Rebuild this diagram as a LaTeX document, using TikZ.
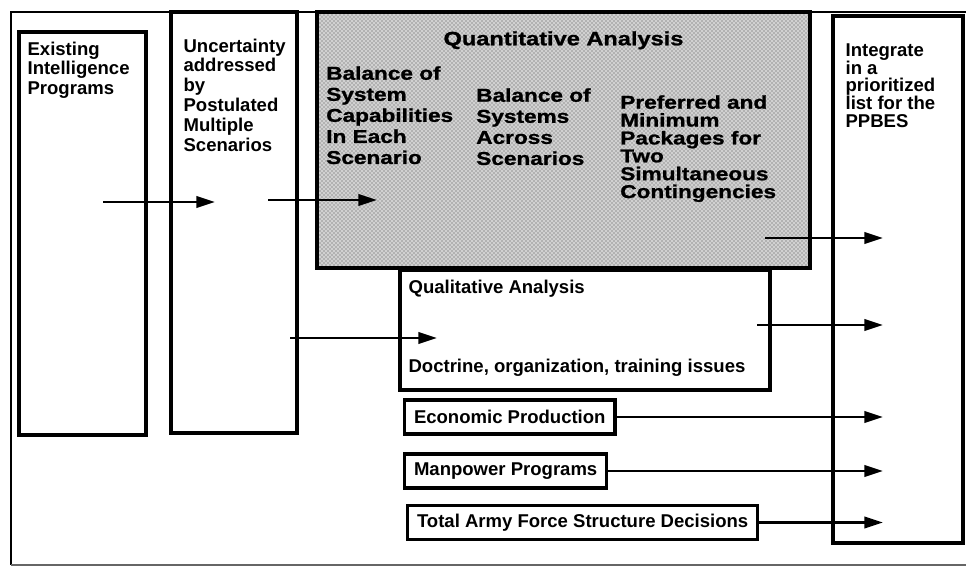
\documentclass[tikz,border=0pt]{standalone}
\usepackage{fontspec}
\setmainfont{Liberation Sans}
\newfontfamily\widesans[FakeStretch=1.22,FakeBold=1.2]{Liberation Sans}
\usetikzlibrary{arrows.meta,positioning,fit,patterns}

\tikzstyle{frame} = [line width=2pt]
\tikzstyle{box} = [draw, line width=2.5pt, inner sep=0pt]
\tikzstyle{qbox} = [draw, line width=3pt, inner sep=0pt, preaction={fill=black!18},
	pattern=crosshatch dots, pattern color=black!70]
\tikzstyle{item} = [draw, line width=2.5pt, anchor=west, inner xsep=7pt, minimum height=25.5pt,
	font=\fontsize{13.9}{14.6}\selectfont\bfseries]
\tikzstyle{txt} = [anchor=north west, inner sep=0pt, align=left,
	font=\fontsize{13.9}{14.9}\selectfont\bfseries]
\tikzstyle{qtxt} = [anchor=north west, inner sep=0pt, align=left,
	font=\widesans\fontsize{13.9}{15.8}\selectfont\bfseries]
\tikzstyle{flow} = [line width=2pt, -{Triangle[length=14pt,width=8.5pt]}]

\begin{document}
\begin{tikzpicture}[x=0.75pt,y=-0.75pt]
\useasboundingbox (0,0) rectangle (966,567);
\draw[frame] (966,12) -- (11,12) -- (11,565);
\draw[line width=0.8pt, black!60] (11,565) -- (966,565);

\node[box, fit={(19,32) (146,435)}] (exist) {};
\node[box, fit={(171,12) (297,433)}] (uncert) {};
\node[qbox, fit={(317,12) (810,268)}] (quant) {};
\node[box, fit={(833,16) (963,543)}] (integ) {};
\node[box, fit={(400,270) (770,390)}] (qual) {};

\node[txt] (existT) at ([shift={(10,11)}]exist.north west) {Existing\\Intelligence\\Programs};
\node[txt] (uncertT) at ([shift={(14,28)}]uncert.north west)
	{Uncertainty\\addressed\\by\\Postulated\\Multiple\\Scenarios};
\node[txt, font=\fontsize{13.9}{13.3}\selectfont\bfseries] (integT) at ([shift={(14,29)}]integ.north west)
	{Integrate\\in a\\prioritized\\list for the\\PPBES};

\node[qtxt, anchor=north, font=\widesans\fontsize{14.5}{15.8}\selectfont\bfseries] (quantT)
	at ([shift={(0,21)}]quant.north) {Quantitative Analysis};
\node[qtxt] (bal1) at ([shift={(11,56)}]quant.north west)
	{Balance of\\System\\Capabilities\\In Each\\Scenario};
\node[qtxt] (bal2) at ([shift={(161,78)}]quant.north west)
	{Balance of\\Systems\\Across\\Scenarios};
\node[qtxt, font=\widesans\fontsize{13.9}{13.4}\selectfont\bfseries] (pref)
	at ([shift={(305,85)}]quant.north west)
	{Preferred and\\Minimum\\Packages for\\Two\\Simultaneous\\Contingencies};

\node[txt] (qualT) at ([shift={(10,11)}]qual.north west) {Qualitative Analysis};
\node[txt] (doct) at ([shift={(10,90)}]qual.north west) {Doctrine, organization, training issues};

\node[item] (econ) at (403,417) {Economic Production};
\node[item] (manp) at (403,471) {Manpower Programs};
\node[item] (total) at (406,522.5) {Total Army Force Structure Decisions};

\coordinate (s1) at (103,202);
\coordinate (e1) at (215,202);
\coordinate (s2) at (268,200);
\coordinate (e2) at (377,200);
\coordinate (s3) at (765,238);
\coordinate (e3) at (883,238);
\coordinate (s4) at (290,338);
\coordinate (e4) at (437,338);
\coordinate (s5) at (757,325);
\coordinate (e5) at (883,325);
\coordinate (tip) at (883,0);

\draw[flow] (s1) -- (e1);
\draw[flow] (s2) -- (e2);
\draw[flow] (s3) -- (e3);
\draw[flow] (s4) -- (e4);
\draw[flow] (s5) -- (e5);
\draw[flow] (econ.east) -- (econ.east -| tip);
\draw[flow] (manp.east) -- (manp.east -| tip);
\draw[flow] (total.east) -- (total.east -| tip);
\end{tikzpicture}
\end{document}
